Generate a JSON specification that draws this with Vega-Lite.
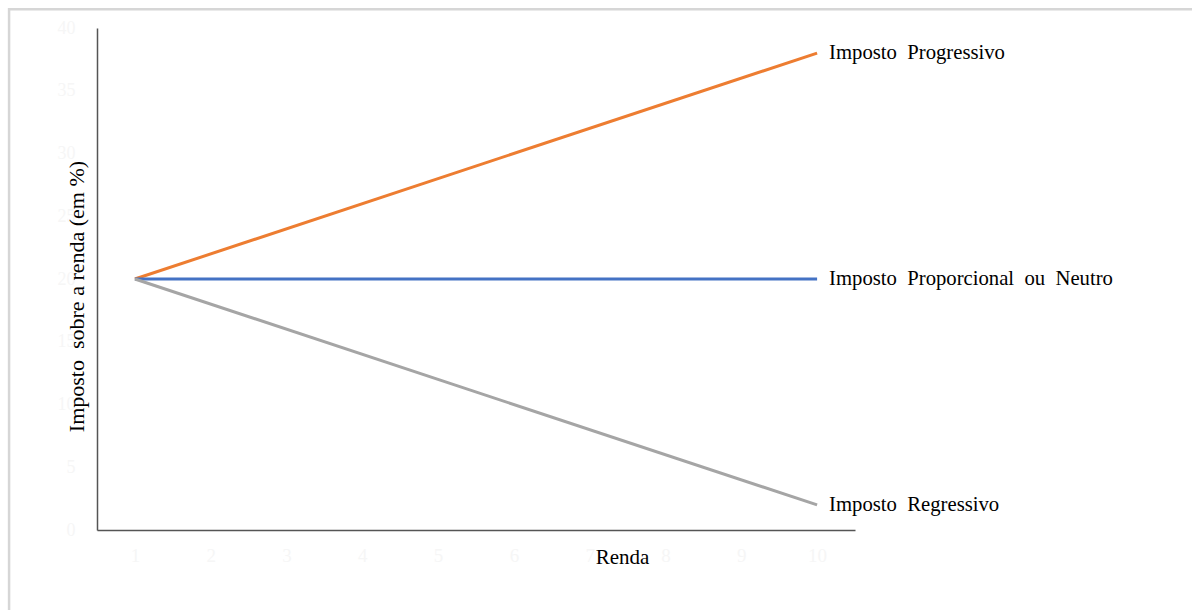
{
  "$schema": "https://vega.github.io/schema/vega-lite/v6.json",
  "width": 758,
  "height": 502,
  "autosize": {"type": "none"},
  "padding": {"left": 97, "top": 28, "right": 337, "bottom": 80},
  "background": "#ffffff",
  "config": {
    "view": {"stroke": null},
    "font": "Liberation Serif"
  },
  "datasets": {
    "impostos": [
      {"renda": 1, "taxa": 20, "tipo": "Imposto\u00a0 Progressivo"},
      {"renda": 10, "taxa": 38, "tipo": "Imposto\u00a0 Progressivo"},
      {"renda": 1, "taxa": 20, "tipo": "Imposto\u00a0 Proporcional\u00a0 ou\u00a0 Neutro"},
      {"renda": 10, "taxa": 20, "tipo": "Imposto\u00a0 Proporcional\u00a0 ou\u00a0 Neutro"},
      {"renda": 1, "taxa": 20, "tipo": "Imposto\u00a0 Regressivo"},
      {"renda": 10, "taxa": 2, "tipo": "Imposto\u00a0 Regressivo"}
    ],
    "moldura": [
      {"x0": -0.66, "x1": 16, "y0": 41.5, "y1": -8}
    ]
  },
  "layer": [
    {
      "data": {"name": "moldura"},
      "mark": {"type": "rect", "fill": null, "stroke": "#d6d6d6", "strokeWidth": 2.5, "clip": false},
      "encoding": {
        "x": {"field": "x0", "type": "quantitative", "scale": {"domain": [0.5, 10.5]}},
        "x2": {"field": "x1"},
        "y": {"field": "y0", "type": "quantitative", "scale": {"domain": [0, 40]}},
        "y2": {"field": "y1"}
      }
    },
    {
      "data": {"name": "impostos"},
      "mark": {"type": "line", "strokeWidth": 3},
      "encoding": {
        "x": {
          "field": "renda",
          "type": "quantitative",
          "scale": {"domain": [0.5, 10.5], "nice": false, "zero": false},
          "axis": {
            "title": "Renda",
            "values": [1, 2, 3, 4, 5, 6, 7, 8, 9, 10],
            "format": "d",
            "grid": false,
            "ticks": false,
            "domainColor": "#555555",
            "domainWidth": 1.5,
            "labelColor": "#f6f6f6",
            "labelFont": "Liberation Serif",
            "labelFontSize": 19,
            "labelPadding": 16,
            "titleFont": "Liberation Serif",
            "titleFontSize": 21,
            "titleFontWeight": "normal",
            "titleColor": "#000000",
            "titleX": 525,
            "titleY": 33,
            "titleBaseline": "alphabetic"
          }
        },
        "y": {
          "field": "taxa",
          "type": "quantitative",
          "scale": {"domain": [0, 40], "nice": false},
          "axis": {
            "title": "Imposto\u00a0 sobre a renda (em %)",
            "values": [0, 5, 10, 15, 20, 25, 30, 35, 40],
            "grid": false,
            "ticks": false,
            "domainColor": "#555555",
            "domainWidth": 1.5,
            "labelColor": "#f6f6f6",
            "labelFont": "Liberation Serif",
            "labelFontSize": 18,
            "labelPadding": 22,
            "titleFont": "Liberation Serif",
            "titleFontSize": 22,
            "titleFontWeight": "normal",
            "titleColor": "#000000",
            "titleX": -14,
            "titleY": 268,
            "titleBaseline": "alphabetic"
          }
        },
        "color": {
          "field": "tipo",
          "type": "nominal",
          "scale": {
            "domain": ["Imposto\u00a0 Progressivo", "Imposto\u00a0 Proporcional\u00a0 ou\u00a0 Neutro", "Imposto\u00a0 Regressivo"],
            "range": ["#ED7D31", "#4472C4", "#A5A5A5"]
          },
          "legend": null
        }
      }
    },
    {
      "data": {"name": "impostos"},
      "transform": [{"filter": "datum.renda == 10"}],
      "mark": {"type": "text", "align": "left", "baseline": "middle", "dx": 12, "fontSize": 20.7, "font": "Liberation Serif", "color": "#000000"},
      "encoding": {
        "x": {"field": "renda", "type": "quantitative"},
        "y": {"field": "taxa", "type": "quantitative"},
        "text": {"field": "tipo"}
      }
    }
  ]
}
